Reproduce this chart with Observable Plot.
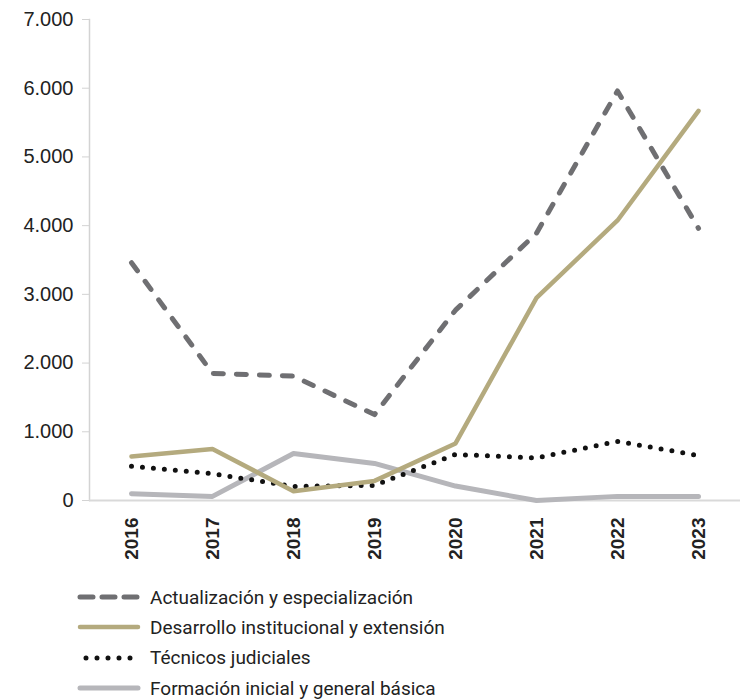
<!DOCTYPE html>
<html>
<head>
<meta charset="utf-8">
<script src="https://cdn.jsdelivr.net/npm/d3@7"></script>
<script src="https://cdn.jsdelivr.net/npm/@observablehq/plot@0.6"></script>
<style>
  body { margin: 0; background: #fff; }
  #chart svg { display: block; }
  .legend { margin-left: 77px; margin-top: 0px; font-family: Roboto, "Noto Sans", sans-serif; font-size: 19px; color: #222; }
  .legend .row { display: flex; align-items: center; height: 30.3px; }
  .legend svg { margin-right: 9px; flex: none; }
</style>
</head>
<body>
<div id="chart"></div>
<div class="legend" id="legend"></div>
<script>
const years = ["2016","2017","2018","2019","2020","2021","2022","2023"];
const seriesNames = [
  "Actualización y especialización",
  "Desarrollo institucional y extensión",
  "Técnicos judiciales",
  "Formación inicial y general básica"
];
const actualizacion = [3460, 1850, 1810, 1250, 2770, 3890, 5960, 3960];
const desarrollo    = [640, 750, 135, 285, 830, 2950, 4075, 5670];
const tecnicos      = [500, 390, 205, 220, 670, 620, 860, 655];
const formacion     = [100, 60, 685, 540, 210, 0, 60, 60];
const yTicks = [0, 1000, 2000, 3000, 4000, 5000, 6000, 7000];

const colors = ["#6f6f72", "#b4aa7e", "#111111", "#b6b6ba"];
const widths = [5, 4.5, 5, 5];
const dashes = ["10 13", null, "0 11", null];

const seriesValues = [actualizacion, desarrollo, tecnicos, formacion];
const data = [];
seriesNames.forEach((s, i) => years.forEach((y, j) => data.push({serie: s, year: y, value: seriesValues[i][j]})));

const fmt = d3.formatLocale({decimal: ",", thousands: ".", grouping: [3]}).format(",");

const drawOrder = [3, 2, 1, 0];
const lineMarks = drawOrder.map(i => Plot.line(data.filter(d => d.serie === seriesNames[i]), {
  x: "year", y: "value",
  stroke: colors[i], strokeWidth: widths[i],
  strokeDasharray: dashes[i], strokeLinecap: "round", strokeLinejoin: "round"
}));

const chart = Plot.plot({
  width: 740,
  height: 582,
  marginTop: 19,
  marginBottom: 82,
  marginLeft: 89,
  marginRight: 0,
  style: {fontFamily: "'Liberation Sans', Arial, sans-serif", background: "#fff"},
  x: {type: "point", domain: years, padding: 0.5, label: null},
  y: {domain: [0, 7000], label: null},
  marks: [
    Plot.frame({anchor: "left", stroke: "#d3d3d3", strokeWidth: 1.5}),
    Plot.ruleY([0], {stroke: "#d9d9d9", strokeWidth: 2}),
    Plot.axisY({ticks: yTicks, tickFormat: fmt, tickSize: 7, tickPadding: 9, stroke: "#d3d3d3", fill: "#222", fontSize: 20, label: null}),
    Plot.axisX({tickSize: 0, tickPadding: 17, tickRotate: -90, fill: "#222", fontSize: 19, fontWeight: "bold", label: null}),
    ...lineMarks
  ]
});
document.getElementById("chart").append(chart);

const legend = document.getElementById("legend");
seriesNames.forEach((s, i) => {
  const row = document.createElement("div");
  row.className = "row";
  const ns = "http://www.w3.org/2000/svg";
  const sv = document.createElementNS(ns, "svg");
  sv.setAttribute("width", 64); sv.setAttribute("height", 12);
  const ln = document.createElementNS(ns, "line");
  const legDash = ["13 9", null, "0 11", null][i];
  const x1 = i === 2 ? 9 : 3;
  ln.setAttribute("x1", x1); ln.setAttribute("x2", 61);
  ln.setAttribute("y1", 6); ln.setAttribute("y2", 6);
  ln.setAttribute("stroke", colors[i]);
  ln.setAttribute("stroke-width", widths[i]);
  ln.setAttribute("stroke-linecap", "round");
  if (legDash) ln.setAttribute("stroke-dasharray", legDash);
  sv.append(ln);
  row.append(sv);
  const t = document.createElement("span");
  t.textContent = s;
  row.append(t);
  legend.append(row);
});
</script>
</body>
</html>
